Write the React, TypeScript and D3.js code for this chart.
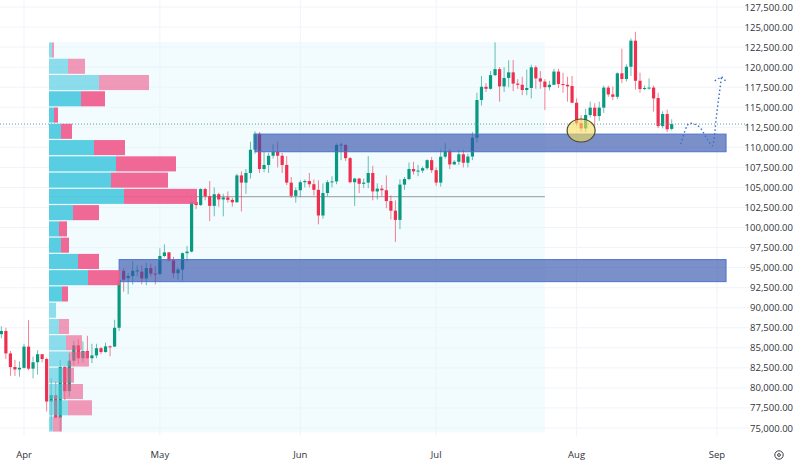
import { useEffect, useRef } from "react";
import * as d3 from "d3";

// daily candles, 27 Mar to 22 Aug
const firstDay = new Date(Date.UTC(2025, 2, 27));
const lastDay = new Date(Date.UTC(2025, 7, 23));

const opens = [
  86700, 87100, 84300, 82600, 82300,
  82500, 85150, 82400, 83200, 84200, 83600, 78300, 79100, 76300, 82600, 79600, 83400, 85300, 83700, 84600, 83700, 84050, 84950, 84470, 85180, 85150, 87500, 94600, 93700, 93950, 94600, 94500, 93650, 94950, 94250,
  94200, 96450, 96900, 95900, 94300, 94750, 96800, 97000, 103200, 102800, 104800, 103900, 102700, 104150, 103500, 103750, 103450, 103150, 106500, 105600, 106800, 109700, 111700, 107300, 107800, 108950, 109450, 108950, 107800, 105600, 103950,
  104650, 105650, 105800, 105400, 104700, 101500, 104300, 105650, 105750, 110300, 110300, 108650, 105650, 106100, 105450, 105600, 106800, 104500, 104850, 104650, 103300, 102100, 100950, 105350, 106050, 107300, 107000, 107100, 107400, 108400,
  107150, 105600, 108830, 109550, 107870, 108200, 109130, 108080, 108850, 111200, 115900, 117550, 117300, 119000, 119750, 117600, 118650, 119350, 117950, 117800, 117150, 117400, 119980, 118600, 118200, 117500, 117800, 119450, 117900, 117800, 117650,
  115560, 113000, 112360, 114030, 114950, 113900, 114950, 117450, 116600, 116300, 119230, 118520, 120050, 123300, 118300, 117270, 117400, 117450, 116150, 112650, 114150, 112300,
];
const closes = [
  87100, 84300, 82600, 82300, 82500,
  85150, 82400, 83200, 84200, 83600, 78300, 79100, 76300, 82600, 79600, 83400, 85300, 83700, 84600, 83700, 84050, 84950, 84470, 85180, 85150, 87500, 93450, 93500, 93950, 94600, 94650, 93650, 94950, 94250, 94200,
  96450, 96900, 95900, 94300, 94750, 96800, 97000, 103200, 102800, 104800, 103900, 102700, 104150, 103500, 103750, 103450, 103150, 106500, 105600, 106800, 109700, 111700, 107300, 107800, 108950, 109450, 108950, 107800, 105600, 103950, 104650,
  105650, 105800, 105400, 104700, 101500, 104300, 105650, 105750, 110300, 110350, 108650, 105650, 106100, 105450, 105600, 106800, 104500, 104850, 104650, 103300, 102100, 100950, 105350, 106050, 107300, 107000, 107100, 107400, 108400, 107150,
  105600, 108830, 109550, 107870, 108200, 109130, 108080, 108850, 111200, 115900, 117550, 117300, 119000, 119750, 117600, 118650, 119350, 117950, 117800, 117150, 117400, 119980, 118600, 118200, 117500, 117800, 119450, 117900, 117800, 117600, 115560,
  113000, 112360, 114030, 114950, 113900, 114950, 117450, 116600, 116300, 119230, 118520, 120050, 123300, 118300, 117270, 117400, 117450, 116100, 112650, 114150, 112250, 112900,
];
const highs = [
  87700, 87500, 84600, 83500, 83300,
  85500, 88450, 83900, 84700, 84200, 83800, 81200, 80850, 83500, 82700, 84300, 85900, 86100, 85800, 86500, 85500, 85500, 85100, 85650, 85300, 88500, 94700, 94900, 94300, 95800, 95300, 95300, 95600, 95500, 95200,
  97400, 97900, 96950, 96350, 95000, 96900, 97700, 103900, 104400, 104900, 104950, 105800, 105000, 104350, 104200, 104500, 103700, 106700, 107000, 107300, 110700, 112000, 111900, 109500, 109300, 110400, 110700, 109300, 108900, 106300, 105000,
  105900, 106000, 106800, 106000, 105900, 105500, 105900, 106400, 110500, 110600, 110400, 108800, 106200, 106200, 106100, 108900, 107700, 105500, 105300, 106500, 104000, 103400, 106000, 106300, 108100, 108200, 107800, 107600, 108500, 108800,
  107500, 109700, 110500, 109750, 108400, 109700, 109700, 109200, 111900, 116800, 118900, 118000, 119500, 123100, 120000, 120000, 120850, 120900, 118500, 118800, 119700, 120300, 120200, 119500, 118500, 118300, 119800, 119800, 119300, 118800, 118900,
  116100, 114000, 114800, 115700, 115500, 115700, 117700, 117700, 117600, 119350, 122300, 120350, 123600, 124400, 119300, 117700, 118600, 117700, 116800, 114500, 114700, 113500,
];
const lows = [
  86200, 83600, 81500, 81500, 81400,
  82400, 82200, 81200, 81650, 83200, 77050, 74750, 76200, 74600, 78500, 78900, 82800, 83000, 83200, 83600, 83100, 83700, 84200, 84400, 83950, 85100, 87100, 92000, 91700, 92900, 93900, 92900, 92800, 93900, 92900,
  94100, 96300, 95800, 93700, 93500, 93400, 95800, 96900, 102300, 102700, 103400, 100800, 101400, 102600, 101400, 103100, 102600, 103100, 102000, 104200, 106100, 109200, 106800, 106900, 106800, 108600, 107500, 106800, 105300, 103700, 103100,
  103800, 105000, 105000, 104000, 100400, 101100, 103900, 105000, 105400, 108400, 108300, 105500, 102700, 104300, 104900, 104900, 103400, 103500, 103900, 102400, 101000, 98200, 99800, 104700, 105900, 106600, 106400, 106800, 107200, 106800,
  105200, 105100, 108600, 107300, 107800, 107800, 107500, 107500, 108400, 110600, 115200, 116900, 117200, 118900, 115700, 116900, 117500, 117000, 117300, 116500, 116500, 116100, 117300, 117300, 114650, 117100, 117800, 117400, 116800, 115700, 115500,
  112700, 111950, 111900, 113700, 112600, 113300, 114300, 116300, 115900, 116000, 118000, 118200, 118900, 117200, 116800, 117150, 117200, 114450, 112400, 112350, 111900, 112100,
];

// volume profile, top row first
const profileUp = [3, 19, 50, 32, 5, 12, 45, 67, 62, 75, 24, 10, 12, 29, 39, 13, 7, 10, 17, 20, 14, 14, 19, 4];
const profileDown = [2, 17, 50, 24, 4, 11, 31, 60, 57, 73, 26, 8, 8, 21, 32, 6, 0, 10, 16, 20, 11, 20, 24, 9];
const profileTop = 123150;
const profileStep = 2028;
const valueAreaRows = [3, 15];
const pointOfControl = 103850;
const lastPrice = 112900;

const yTicks = d3.range(75000, 127501, 2500);
const monthTicks = [
  { label: "Apr", date: new Date(Date.UTC(2025, 3, 1)) },
  { label: "May", date: new Date(Date.UTC(2025, 4, 1)) },
  { label: "Jun", date: new Date(Date.UTC(2025, 5, 1)) },
  { label: "Jul", date: new Date(Date.UTC(2025, 6, 1)) },
  { label: "Aug", date: new Date(Date.UTC(2025, 7, 1)) },
  { label: "Sep", date: new Date(Date.UTC(2025, 8, 1)) },
];

// drawn zones and projected path
const zones = [
  { from: new Date(Date.UTC(2025, 4, 22)), to: new Date(Date.UTC(2025, 8, 3)), high: 111650, low: 109450 },
  { from: new Date(Date.UTC(2025, 3, 22)), to: new Date(Date.UTC(2025, 8, 3)), high: 96000, low: 93250 },
];
const profileSpanEnd = new Date(Date.UTC(2025, 6, 25));
const projDates = [
  [2025, 7, 24], [2025, 7, 26], [2025, 7, 28], [2025, 7, 30], [2025, 7, 31], [2025, 8, 1], [2025, 8, 2],
].map(([y, m, d]) => new Date(Date.UTC(y, m, d)));
const projValues = [110400, 113000, 112600, 110900, 110200, 114500, 118800];
const arrowDates = [
  new Date(Date.UTC(2025, 7, 31, 12)),
  new Date(Date.UTC(2025, 8, 2)),
  new Date(Date.UTC(2025, 8, 3, 6)),
];
const arrowValues = [118300, 118800, 118100];
const ellipseDate = new Date(Date.UTC(2025, 7, 2));
const ellipseValue = 112100;

const up = "#089981";
const down = "#ee2f4f";
const font = "'Open Sans', 'Noto Sans', sans-serif";

const App = () => {
  const svgRef = useRef<SVGSVGElement>(null);

  useEffect(() => {
    if (!svgRef.current) return;
    const svg = d3.select(svgRef.current);
    svg.selectAll("*").remove();

    const x = d3.scaleUtc().domain([monthTicks[0].date, monthTicks[5].date]).range([24, 717]);
    const y = d3.scaleLinear().domain([75000, 127500]).range([428, 7]);
    const vol = d3.scaleLinear().domain([0, 148]).range([49, 197]);
    const days = d3.utcDay.range(firstDay, lastDay);
    const rowH = y(0) - y(profileStep);
    const gridRight = 750;

    // grid
    svg.append("g")
      .selectAll("line")
      .data(yTicks)
      .join("line")
      .attr("x1", 0)
      .attr("x2", gridRight)
      .attr("y1", (d) => y(d))
      .attr("y2", (d) => y(d))
      .attr("stroke", "#f0f3fa");
    svg.append("g")
      .selectAll("line")
      .data(monthTicks)
      .join("line")
      .attr("x1", (d) => x(d.date))
      .attr("x2", (d) => x(d.date))
      .attr("y1", 0)
      .attr("y2", 436)
      .attr("stroke", "#f0f3fa");

    // profile backdrop
    svg.append("rect")
      .attr("x", vol(0))
      .attr("y", y(profileTop))
      .attr("width", x(profileSpanEnd) - vol(0))
      .attr("height", rowH * profileUp.length)
      .attr("fill", "#e3f6fd")
      .attr("fill-opacity", 0.45);

    // POC line
    svg.append("line")
      .attr("x1", vol(0))
      .attr("x2", x(profileSpanEnd))
      .attr("y1", y(pointOfControl))
      .attr("y2", y(pointOfControl))
      .attr("stroke", "#a8adb0")
      .attr("stroke-width", 1.2);

    // candles
    const candles = svg.append("g")
      .selectAll("g")
      .data(days)
      .join("g")
      .attr("stroke", (_, i) => (closes[i] >= opens[i] ? up : down))
      .attr("fill", (_, i) => (closes[i] >= opens[i] ? up : down));
    candles.append("line")
      .attr("x1", (d) => x(d))
      .attr("x2", (d) => x(d))
      .attr("y1", (_, i) => y(highs[i]))
      .attr("y2", (_, i) => y(lows[i]))
      .attr("stroke-opacity", 0.6);
    candles.append("rect")
      .attr("x", (d) => x(d) - 1.6)
      .attr("width", 3.2)
      .attr("y", (_, i) => y(Math.max(opens[i], closes[i])))
      .attr("height", (_, i) => Math.max(1, Math.abs(y(opens[i]) - y(closes[i]))))
      .attr("stroke", "none");

    // last price
    svg.append("line")
      .attr("x1", 0)
      .attr("x2", gridRight)
      .attr("y1", y(lastPrice))
      .attr("y2", y(lastPrice))
      .attr("stroke", "#5d9c96")
      .attr("stroke-dasharray", "1 2");

    // zones
    svg.append("g")
      .selectAll("rect")
      .data(zones)
      .join("rect")
      .attr("x", (d) => x(d.from))
      .attr("width", (d) => x(d.to) - x(d.from))
      .attr("y", (d) => y(d.high))
      .attr("height", (d) => y(d.low) - y(d.high))
      .attr("fill", "#3453ac")
      .attr("fill-opacity", 0.65)
      .attr("stroke", "#4a74d0");

    // volume profile
    const isCore = (i: number) => i >= valueAreaRows[0] && i <= valueAreaRows[1];
    const rows = svg.append("g")
      .selectAll("g")
      .data(profileUp)
      .join("g")
      .attr("opacity", (_, i) => (isCore(i) ? 0.92 : 0.62));
    rows.append("rect")
      .attr("x", vol(0))
      .attr("y", (_, i) => y(profileTop - i * profileStep) + 0.6)
      .attr("width", (d) => vol(d) - vol(0))
      .attr("height", rowH - 1.2)
      .attr("fill", "#4dcbe0");
    rows.append("rect")
      .attr("x", (d) => vol(d))
      .attr("y", (_, i) => y(profileTop - i * profileStep) + 0.6)
      .attr("width", (_, i) => vol(profileDown[i]) - vol(0))
      .attr("height", rowH - 1.2)
      .attr("fill", "#f05c8e");

    // marked spot
    svg.append("ellipse")
      .attr("cx", x(ellipseDate))
      .attr("cy", y(ellipseValue))
      .attr("rx", 14)
      .attr("ry", 11.5)
      .attr("fill", "#f7df5a")
      .attr("fill-opacity", 0.6)
      .attr("stroke", "#4a4a30")
      .attr("stroke-width", 1.2);

    // projected path
    const line = d3
      .line<Date>()
      .x((d) => x(d))
      .curve(d3.curveMonotoneX);
    svg.append("path")
      .attr("d", line.y((_, i) => y(projValues[i]))(projDates))
      .attr("fill", "none")
      .attr("stroke", "#3d6fc4")
      .attr("stroke-width", 1.4)
      .attr("stroke-dasharray", "1.5 2.5");
    svg.append("path")
      .attr("d", d3.line<Date>().x((d) => x(d)).y((_, i) => y(arrowValues[i]))(arrowDates))
      .attr("fill", "none")
      .attr("stroke", "#3d6fc4")
      .attr("stroke-width", 1.4)
      .attr("stroke-dasharray", "1.5 2.5");

    // price axis
    svg.append("g")
      .selectAll("text")
      .data(yTicks)
      .join("text")
      .attr("x", 793)
      .attr("y", (d) => y(d) + 3.5)
      .attr("text-anchor", "end")
      .attr("font-family", font)
      .attr("font-size", 9.5)
      .attr("fill", "#2f3238")
      .text((d) => d3.format(",.2f")(d));

    // time axis
    svg.append("g")
      .selectAll("text")
      .data(monthTicks)
      .join("text")
      .attr("x", (d) => x(d.date))
      .attr("y", 458)
      .attr("text-anchor", "middle")
      .attr("font-family", font)
      .attr("font-size", 9.5)
      .attr("fill", "#2f3238")
      .text((d) => d.label);

    // settings icon
    svg.append("circle")
      .attr("cx", 779)
      .attr("cy", 455)
      .attr("r", 4.2)
      .attr("fill", "none")
      .attr("stroke", "#3a3d44");
    svg.append("circle")
      .attr("cx", 779)
      .attr("cy", 455)
      .attr("r", 1.4)
      .attr("fill", "none")
      .attr("stroke", "#3a3d44");
  }, []);

  return (
    <svg
      ref={svgRef}
      width={800}
      height={462}
      style={{ position: "absolute", left: 0, top: 0, background: "#fff" }}
    />
  );
};

export default App;
